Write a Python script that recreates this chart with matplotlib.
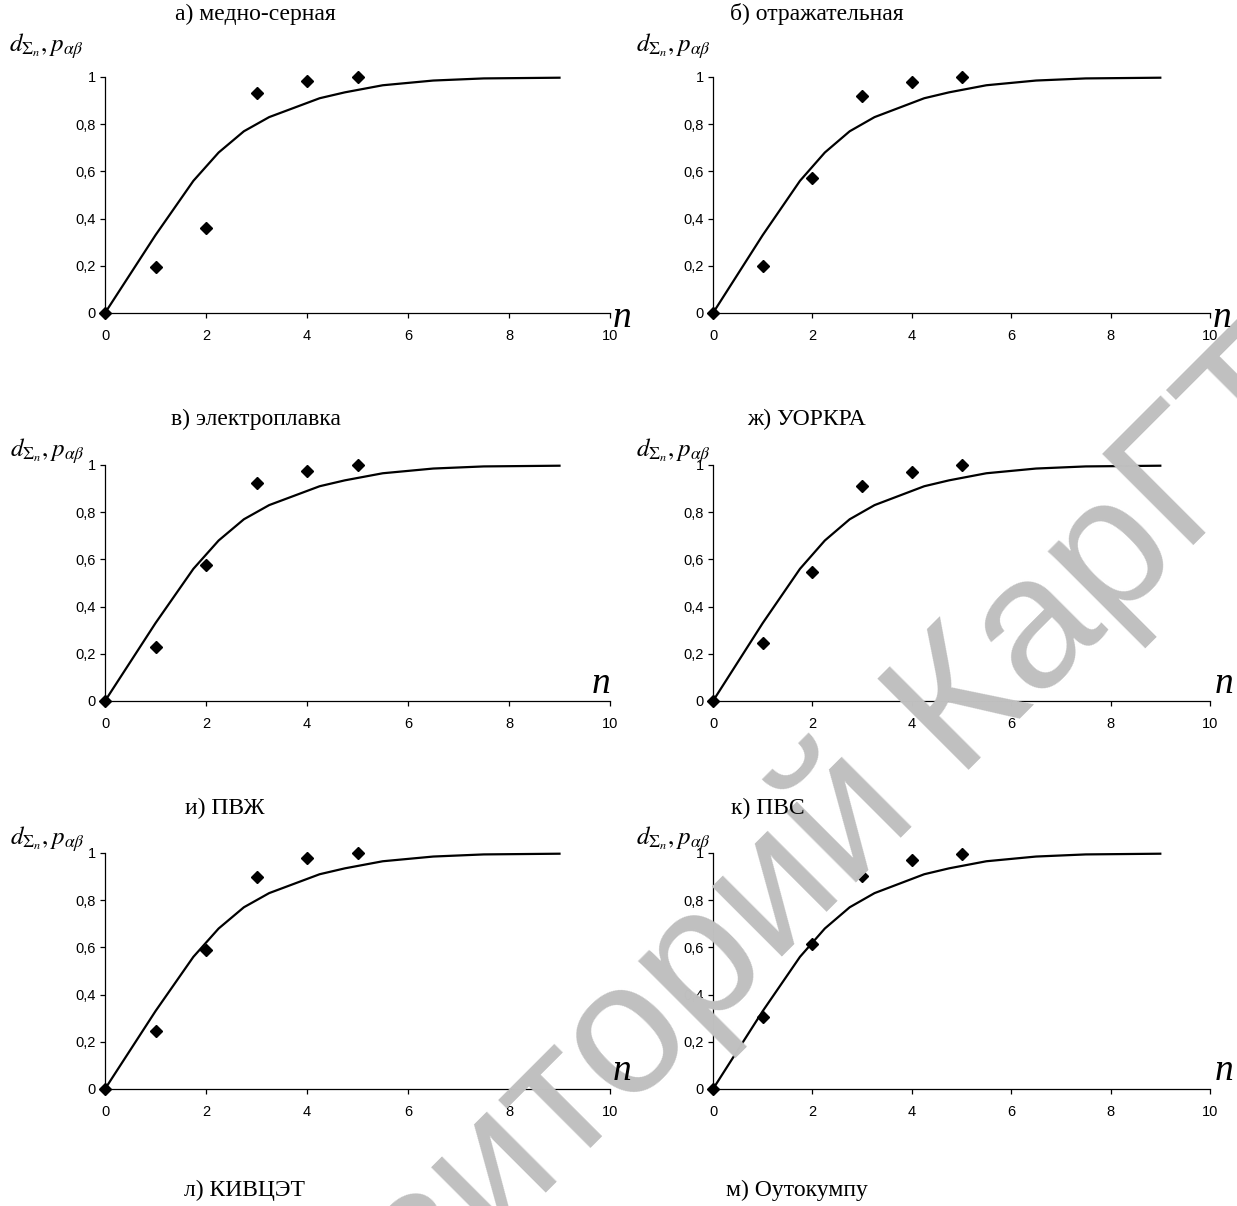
import matplotlib
matplotlib.use("Agg")
import matplotlib.pyplot as plt
from matplotlib.ticker import FixedLocator, FuncFormatter

plt.rcParams['mathtext.fontset'] = 'stix'

# ---------------- data ----------------
titles = ["а) медно-серная", "б) отражательная", "в) электроплавка",
          "ж) УОРКРА", "и) ПВЖ", "к) ПВС"]
extra_titles = ["л) КИВЦЭТ", "м) Оутокумпу"]

n_points = [0, 1, 2, 3, 4, 5]
p_mednoser = [0, 0.194, 0.362, 0.932, 0.982, 1.0]
p_otrazh = [0, 0.198, 0.571, 0.918, 0.979, 0.999]
p_elektro = [0, 0.230, 0.578, 0.924, 0.974, 0.999]
p_uorkra = [0, 0.244, 0.546, 0.911, 0.972, 0.999]
p_pvzh = [0, 0.245, 0.588, 0.899, 0.980, 1.0]
p_pvs = [0, 0.306, 0.615, 0.904, 0.970, 0.996]
series = [p_mednoser, p_otrazh, p_elektro, p_uorkra, p_pvzh, p_pvs]

curve_n = [0, 1, 1.75, 2.25, 2.75, 3.25, 3.75, 4.25, 4.75, 5.5, 6.5, 7.5, 9]
curve_d = [0, 0.33, 0.56, 0.68, 0.77, 0.83, 0.87, 0.91, 0.935, 0.965, 0.985, 0.994, 0.997]

x_ticks = [0, 2, 4, 6, 8, 10]
y_ticks = [0, 0.2, 0.4, 0.6, 0.8, 1.0]

ylabel_text = r'$d_{\Sigma_n},p_{\alpha\beta}$'
watermark = "Репозиторий КарГТУ"

# ---------------- layout ----------------
W, H = 1237, 1206
fig = plt.figure(figsize=(W / 100, H / 100), dpi=100)

col_left = [105, 713]
col_right = [610, 1210]
row_bottom = [313, 701, 1089]
row_top = [77, 465, 853]

title_pos = [(255, 14), (817, 14), (256, 419), (806, 419), (225, 808), (768, 808)]
extra_title_pos = [(245, 1190), (797, 1190)]
ylabel_pos = [(9, 52), (636, 52), (10, 457), (636, 457), (10, 845), (636, 845)]
nlabel_pos = [(613, 327), (1213, 327), (592, 693), (1215, 693), (613, 1080), (1215, 1080)]

def fx(px):
    return px / W

def fy(py):
    return 1 - py / H

# watermark behind everything
fig.text(fx(740), fy(928), watermark, rotation=45, rotation_mode='anchor',
         ha='center', va='center', fontsize=135, color='#c0c0c0',
         family='Liberation Sans', zorder=0)

fmt = FuncFormatter(lambda v, pos: ('%g' % v).replace('.', ','))

for i in range(6):
    r, c = divmod(i, 2)
    left = fx(col_left[c])
    width = (col_right[c] - col_left[c]) / W
    bottom = fy(row_bottom[r])
    height = (row_bottom[r] - row_top[r]) / H
    ax = fig.add_axes([left, bottom, width, height])
    ax.patch.set_alpha(0)
    ax.set_xlim(0, 10)
    ax.set_ylim(0, 1)
    for s in ['top', 'right']:
        ax.spines[s].set_visible(False)
    for s in ['left', 'bottom']:
        ax.spines[s].set_linewidth(0.9)
    ax.xaxis.set_major_locator(FixedLocator(x_ticks))
    ax.yaxis.set_major_locator(FixedLocator(y_ticks))
    ax.yaxis.set_major_formatter(fmt)
    ax.tick_params(axis='both', direction='out', length=3.5, width=0.9,
                   labelsize=10.5)
    ax.tick_params(axis='x', pad=8)
    ax.tick_params(axis='y', pad=3)
    for lab in ax.get_xticklabels() + ax.get_yticklabels():
        lab.set_family('Liberation Sans')
    ax.plot(curve_n, curve_d, color='black', lw=1.6, clip_on=False, zorder=3)
    ax.plot(n_points, series[i], linestyle='none', marker='D', ms=6.5,
            color='black', clip_on=False, zorder=4)

    tx, ty = title_pos[i]
    fig.text(fx(tx), fy(ty), titles[i], ha='center', va='center',
             fontsize=17, family='Liberation Serif')
    lx, ly = ylabel_pos[i]
    fig.text(fx(lx), fy(ly), ylabel_text, ha='left', va='baseline',
             fontsize=18)
    nx, ny = nlabel_pos[i]
    fig.text(fx(nx), fy(ny), 'n', ha='left', va='baseline', fontsize=27,
             family='Liberation Serif', style='italic')

for (tx, ty), t in zip(extra_title_pos, extra_titles):
    fig.text(fx(tx), fy(ty), t, ha='center', va='center', fontsize=17,
             family='Liberation Serif')

fig.savefig('out.png', dpi=100)
